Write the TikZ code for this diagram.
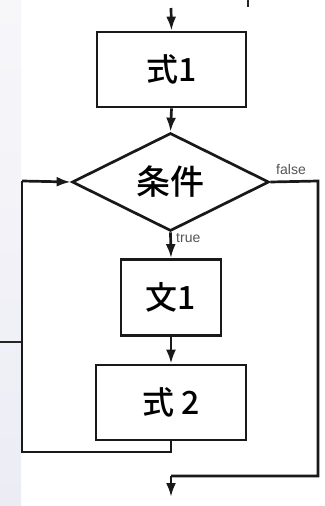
\documentclass[tikz,border=0pt]{standalone}
\usepackage{fontspec}
\setmainfont{Liberation Sans}
\newfontfamily\cjk{Noto Sans CJK JP}[UprightFont=* Medium]
\usetikzlibrary{shapes.geometric,arrows.meta}
\definecolor{lav}{HTML}{ECECF5}
\definecolor{lavtop}{HTML}{F7F7FA}
\definecolor{labelgray}{HTML}{555555}
\tikzset{
  x=1pt,y=-1pt,
  flow/.style={line width=2.7pt,draw=black!90},
  arr/.style={flow,-{Latex[length=14pt,width=10pt]}},
  boxnode/.style={draw=black!90,line width=2.7pt,rectangle,inner sep=0pt,font=\cjk\fontsize{32}{34}\selectfont},
  decision/.style={draw=black!90,line width=2.7pt,diamond,aspect=2,inner sep=0pt,minimum width=197pt,minimum height=98pt,font=\cjk\fontsize{34}{36}\selectfont},
  lbl/.style={font=\fontsize{14}{16}\selectfont,text=labelgray,inner sep=0pt}
}
\begin{document}
\begin{tikzpicture}
\useasboundingbox (0,0) rectangle (324,506);
\fill[white] (0,0) rectangle (324,506);
\shade[top color=lavtop,bottom color=lav] (0,0) rectangle (21,506);
% artifacts
\draw[line width=1.4pt,black!85] (0,342) -- (22,342);
\draw[line width=1.4pt,black!85] (248,0) -- (248,7);
% nodes
\coordinate (top) at (171,8);
\node[boxnode,minimum width=149pt,minimum height=75pt] (s1) at (171.5,69.5) {式1};
\node[decision] (c) at (170.5,182) {条件};
\node[boxnode,minimum width=100pt,minimum height=76pt] (b1) at (171,297.5) {文1};
\node[boxnode,minimum width=150pt,minimum height=75pt] (s2) at (171,402.5) {式 2};
\coordinate (fr) at (318,181);
\coordinate (fb) at (318,476);
\coordinate (fm) at (171,476);
\coordinate (endp) at (171,497);
\coordinate (lb) at (171,452);
\coordinate (ll) at (22,452);
\coordinate (lt) at (22,181);
% connectors
\draw[arr] (top) -- (s1.north);
\draw[arr] (s1.south) -- (c.north);
\draw[arr] (c.south) -- (b1.north);
\draw[arr] (b1.south) -- (s2.north);
\draw[flow] (c.east) -- (fr) -- (fb) -- (fm);
\draw[arr] (fm) -- (endp);
\draw[flow] (s2.south) -- (lb) -- (ll) -- (lt);
\draw[arr] (lt) -- (c.west);
% labels
\node[lbl,anchor=center] (lf) at (291,169) {false};
\node[lbl,anchor=west] (lt2) at (176,238) {true};
\end{tikzpicture}
\end{document}
